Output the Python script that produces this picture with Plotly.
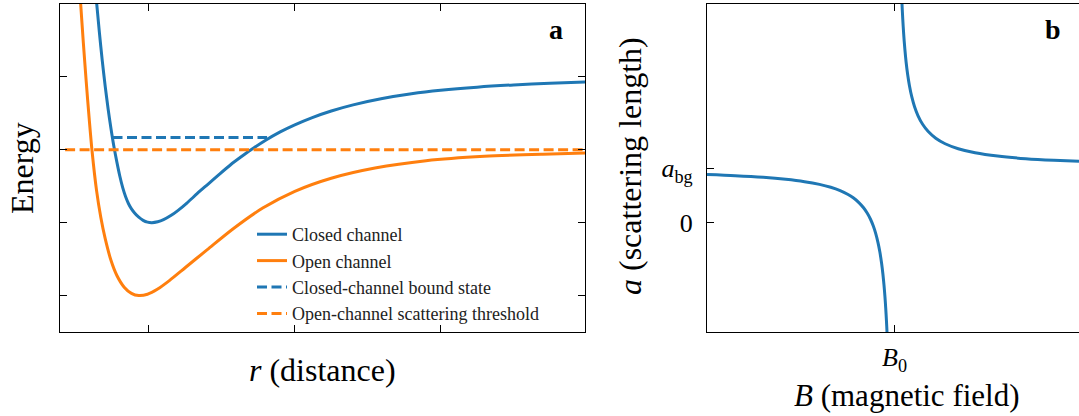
import plotly.graph_objects as go

# ---- panel a: interaction potentials vs. interatomic distance ----
r_closed = [0.64, 0.66, 0.68, 0.70, 0.72, 0.74, 0.76, 0.78, 0.80, 0.82, 0.84, 0.86, 0.88, 0.90,
            0.93, 0.96, 0.99, 1.02, 1.06, 1.10, 1.15, 1.20, 1.26, 1.33, 1.40, 1.48, 1.56, 1.63,
            1.70, 1.80, 1.90, 2.00, 2.12, 2.25, 2.40, 2.60, 2.80, 3.00, 3.25, 3.50, 3.75, 4.00]
E_closed = [2.04, 1.61, 1.22, 0.87, 0.56, 0.285, 0.04, -0.17, -0.36, -0.52, -0.645, -0.74, -0.81, -0.863,
            -0.925, -0.968, -0.993, -1.00, -0.988, -0.959, -0.903, -0.831, -0.731, -0.603, -0.48, -0.34,
            -0.205, -0.10, 0.0, 0.131, 0.245, 0.342, 0.442, 0.532, 0.616, 0.703, 0.768, 0.816, 0.859,
            0.89, 0.913, 0.932]

r_open = [0.53, 0.55, 0.57, 0.59, 0.61, 0.64, 0.67, 0.70, 0.74, 0.78, 0.83, 0.88, 0.93, 0.99,
          1.06, 1.14, 1.25, 1.40, 1.58, 1.78, 2.00, 2.25, 2.55, 2.90, 3.30, 3.70, 4.00]
E_open = [2.05, 1.47, 0.93, 0.43, -0.02, -0.55, -0.93, -1.22, -1.52, -1.725, -1.885, -1.97, -2.00,
          -1.982, -1.91, -1.795, -1.615, -1.37, -1.08, -0.80, -0.57, -0.39, -0.25, -0.15, -0.09,
          -0.06, -0.045]

bound_r = [0.75, 1.81]
bound_E = [0.17, 0.17]
threshold_r = [0.425, 4.0]
threshold_E = [0.0, 0.0]

r_ticks = [1, 2, 3]
E_ticks = [-2, -1, 0, 1]

# ---- panel b: scattering length across a Feshbach resonance ----
B_below = [-1.0, -0.85, -0.7, -0.58, -0.48, -0.40, -0.34, -0.29, -0.25, -0.22, -0.19, -0.165,
           -0.145, -0.128, -0.113, -0.10, -0.088, -0.078, -0.069, -0.062, -0.056, -0.051,
           -0.047, -0.043, -0.040, -0.037]
a_below = [0.88, 0.859, 0.829, 0.793, 0.75, 0.70, 0.647, 0.586, 0.52, 0.455, 0.368, 0.273,
           0.172, 0.0625, -0.062, -0.20, -0.364, -0.538, -0.739, -0.935, -1.143, -1.353,
           -1.553, -1.791, -2.0, -2.243]
B_above = [0.036, 0.04, 0.044, 0.049, 0.055, 0.062, 0.070, 0.080, 0.092, 0.107, 0.125, 0.15,
           0.18, 0.22, 0.27, 0.34, 0.43, 0.55, 0.70, 0.85, 0.984]
a_above = [4.333, 4.0, 3.727, 3.449, 3.182, 2.935, 2.714, 2.5, 2.304, 2.121, 1.96, 1.8,
           1.667, 1.545, 1.444, 1.353, 1.279, 1.218, 1.171, 1.141, 1.122]

B_ticks = [0]
B_ticktext = ["<i>B</i><sub>0</sub>"]
a_ticks = [0, 1]
a_ticktext = ["0", "<i>a</i><sub>bg</sub>"]

BLUE = "#1f77b4"
ORANGE = "#ff7f0e"
FONT = "Liberation Serif"
DASH = "10px,4.5px"
W, H = 1079, 416

fig = go.Figure()
fig.add_trace(go.Scatter(x=r_closed, y=E_closed, mode="lines", name="Closed channel",
                         line=dict(color=BLUE, width=3, shape="spline", smoothing=0.8),
                         xaxis="x", yaxis="y"))
fig.add_trace(go.Scatter(x=r_open, y=E_open, mode="lines", name="Open channel",
                         line=dict(color=ORANGE, width=3, shape="spline", smoothing=0.8),
                         xaxis="x", yaxis="y"))
fig.add_trace(go.Scatter(x=bound_r, y=bound_E, mode="lines", name="Closed-channel bound state",
                         line=dict(color=BLUE, width=3, dash=DASH), xaxis="x", yaxis="y"))
fig.add_trace(go.Scatter(x=threshold_r, y=threshold_E, mode="lines",
                         name="Open-channel scattering threshold",
                         line=dict(color=ORANGE, width=3, dash=DASH), xaxis="x", yaxis="y"))
fig.add_trace(go.Scatter(x=B_below, y=a_below, mode="lines", showlegend=False,
                         line=dict(color=BLUE, width=3, shape="spline", smoothing=0.8),
                         xaxis="x2", yaxis="y2"))
fig.add_trace(go.Scatter(x=B_above, y=a_above, mode="lines", showlegend=False,
                         line=dict(color=BLUE, width=3, shape="spline", smoothing=0.8),
                         xaxis="x2", yaxis="y2"))

frame = dict(showline=True, linecolor="black", linewidth=1.3, showgrid=False, zeroline=False,
             ticks="inside", ticklen=7, tickwidth=1.2, tickcolor="black")
ydom = [1 - 332 / H, 1 - 4 / H]

fig.update_layout(
    width=W, height=H, margin=dict(l=0, r=0, t=0, b=0),
    paper_bgcolor="white", plot_bgcolor="white",
    font=dict(family=FONT, color="black"),
    xaxis=dict(domain=[60 / W, 585 / W], range=[0.39, 3.99], tickvals=r_ticks,
               showticklabels=False, mirror="ticks", anchor="y", **frame),
    yaxis=dict(domain=ydom, range=[-2.5, 2.0], tickvals=E_ticks,
               showticklabels=False, mirror="ticks", anchor="x", **frame),
    xaxis2=dict(domain=[707 / W, 1.0], range=[-1.0, 0.984], tickvals=B_ticks,
                ticktext=B_ticktext, mirror="ticks", anchor="y2", ticklabelstandoff=2,
                tickfont=dict(size=26, family=FONT), **frame),
    yaxis2=dict(domain=ydom, range=[-2.0, 4.0], tickvals=a_ticks, ticktext=a_ticktext,
                mirror=False, anchor="x2", ticklabelstandoff=8,
                tickfont=dict(size=26, family=FONT), **frame),
    yaxis3=dict(overlaying="y2", side="right", anchor="x2", range=[-2.0, 4.0],
                tickvals=a_ticks, showticklabels=False, showline=False, showgrid=False,
                zeroline=False, ticks="inside", ticklen=4, tickwidth=1.2, tickcolor="black"),
    legend=dict(x=252 / W, y=1 - 216 / H, xanchor="left", yanchor="top",
                bgcolor="rgba(0,0,0,0)", borderwidth=0,
                font=dict(family=FONT, size=18, color="#222")),
)

notes = [
    dict(text="Energy", x=22 / W, y=1 - 168 / H, textangle=-90, size=32),
    dict(text="<i>r</i> (distance)", x=323 / W, y=1 - 370 / H, size=32),
    dict(text="<i>a</i> (scattering length)", x=630 / W, y=1 - 166 / H, textangle=-90, size=32),
    dict(text="<i>B</i> (magnetic field)", x=907 / W, y=1 - 395 / H, size=31),
    dict(text="<b>a</b>", x=556 / W, y=1 - 30 / H, size=28),
    dict(text="<b>b</b>", x=1053 / W, y=1 - 30 / H, size=28),
]
for n in notes:
    fig.add_annotation(text=n["text"], x=n["x"], y=n["y"], xref="paper", yref="paper",
                       xanchor="center", yanchor="middle", showarrow=False,
                       textangle=n.get("textangle", 0),
                       font=dict(family=FONT, size=n["size"], color="black"))

fig.write_html("out.html")
